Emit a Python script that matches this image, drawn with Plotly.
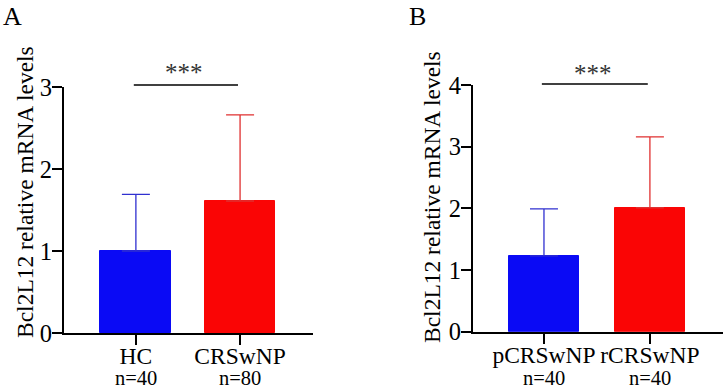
import plotly.graph_objects as go

W, H = 725, 388

# ---- data ----
cats_a = ["HC", "CRSwNP"]
n_a = ["n=40", "n=80"]
mean_a = [1.00, 1.61]
sd_a = [0.69, 1.05]

cats_b = ["pCRSwNP", "rCRSwNP"]
n_b = ["n=40", "n=40"]
mean_b = [1.23, 2.01]
sd_b = [0.76, 1.15]

sig_label = "***"
y_title = "Bcl2L12 relative mRNA levels"

colors = ["#0a0af5", "#fa0505"]
err_colors = ["#3030d0", "#e03030"]
FONT = "Liberation Serif, Times New Roman, serif"

fig = go.Figure()

def add_panel(xa, ya, cats, means, sds, width):
    for i, (c, m, s) in enumerate(zip(cats, means, sds)):
        fig.add_trace(go.Bar(
            x=[i], y=[m], width=width, xaxis=xa, yaxis=ya,
            marker=dict(color=colors[i], line=dict(color=colors[i], width=1)),
            error_y=dict(type="data", symmetric=False, array=[s], arrayminus=[0],
                         color=err_colors[i], thickness=1.3, width=14),
            showlegend=False, hoverinfo="skip"))

add_panel("x", "y", cats_a, mean_a, sd_a, 0.68)
add_panel("x2", "y2", cats_b, mean_b, sd_b, 0.66)

axis_common = dict(showline=True, linecolor="black", linewidth=2, ticks="outside",
                   ticklen=10, tickwidth=2, tickcolor="black", showgrid=False,
                   zeroline=False, automargin=False, tickangle=0)
xax = dict(ticklabelstandoff=-9, tickfont=dict(family=FONT, size=23.5, color="black"),
           **axis_common)
yax = dict(ticklabelstandoff=-5, tickfont=dict(family=FONT, size=24.5, color="black"),
           **axis_common)

fig.update_layout(
    width=W, height=H, margin=dict(l=0, r=0, t=0, b=0, autoexpand=False),
    paper_bgcolor="white", plot_bgcolor="white",
    font=dict(family=FONT, color="black"),
    bargap=0,
    xaxis=dict(domain=[64/W, 313/W], range=[-0.69, 1.70], tickmode="array",
               tickvals=list(range(len(cats_a))), ticktext=cats_a, anchor="y", **xax),
    yaxis=dict(domain=[1-333/H, 1-87/H], range=[0, 3], tickmode="array",
               tickvals=[0, 1, 2, 3], anchor="x", **yax),
    xaxis2=dict(domain=[473/W, 723/W], range=[-0.67, 1.69], tickmode="array",
                tickvals=list(range(len(cats_b))), ticktext=cats_b, anchor="y2", **xax),
    yaxis2=dict(domain=[1-331.7/H, 1-85/H], range=[0, 4], tickmode="array",
                tickvals=[0, 1, 2, 3, 4], anchor="x2", **yax),
)

# significance lines and stars
for xa, ya, ly, sy in [("x", "y", 1.008, 1.058), ("x2", "y2", 1.004, 1.048)]:
    fig.add_shape(type="line", xref=xa, yref=ya + " domain", x0=-0.02, x1=0.98,
                  y0=ly, y1=ly, line=dict(color="black", width=1.5))
    fig.add_annotation(text=sig_label, xref=xa, yref=ya + " domain", x=0.46, y=sy,
                       showarrow=False, xanchor="center", yanchor="middle",
                       font=dict(family=FONT, size=25, color="#333333"))

# n labels
for xa, ns in [("x", n_a), ("x2", n_b)]:
    for i, t in enumerate(ns):
        fig.add_annotation(text=t, xref=xa, yref="paper", x=i, y=0, yshift=-2,
                           showarrow=False, xanchor="center", yanchor="bottom",
                           borderpad=0,
                           font=dict(family=FONT, size=20.5, color="black"))

# y titles
for xpx, ypx in [(25, 192), (432, 197)]:
    fig.add_annotation(text=y_title, xref="paper", yref="paper", x=xpx/W, y=1-ypx/H,
                       textangle=-90, showarrow=False, xanchor="center", yanchor="middle",
                       font=dict(family=FONT, size=23.5, color="black"))

# panel labels
for lab, xpx in [("A", 1), ("B", 407)]:
    fig.add_annotation(text=lab, xref="paper", yref="paper", x=xpx/W, y=1,
                       showarrow=False, xanchor="left", yanchor="top",
                       font=dict(family=FONT, size=26, color="black"))

fig.write_html("out.html")
